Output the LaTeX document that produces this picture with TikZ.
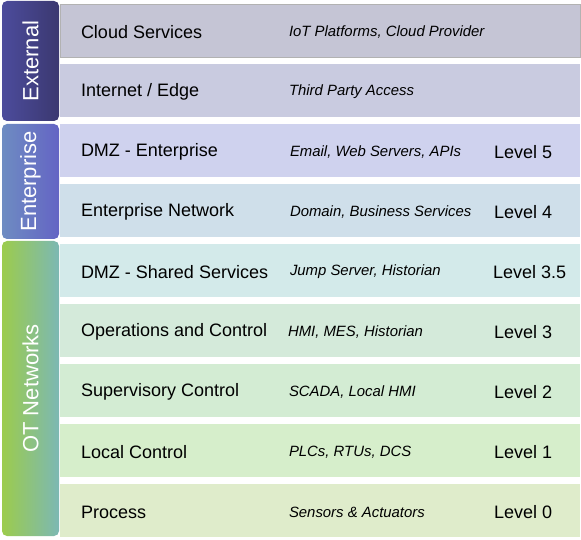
\documentclass[tikz,border=0pt]{standalone}
\usepackage{fontspec}
\setmainfont{Liberation Sans}
\usepackage{tikz}
\usetikzlibrary{positioning}

\definecolor{extTop}{HTML}{3B3870}
\definecolor{extBot}{HTML}{4C4C9C}
\definecolor{entTop}{HTML}{6464C4}
\definecolor{entBot}{HTML}{6E8CC2}
\definecolor{otTop}{HTML}{7CB8B4}
\definecolor{otBot}{HTML}{9CCC4C}
\definecolor{rowA}{HTML}{C5C5D5}
\definecolor{rowB}{HTML}{C9CBE0}
\definecolor{rowC}{HTML}{CFD2EE}
\definecolor{rowD}{HTML}{CFDFEA}
\definecolor{rowE}{HTML}{D3EAEA}
\definecolor{rowF}{HTML}{D4EADA}
\definecolor{rowG}{HTML}{D3ECD3}
\definecolor{rowH}{HTML}{D6EECB}
\definecolor{rowI}{HTML}{DFECCB}

\tikzset{
  layer/.style={rectangle, inner sep=0pt, minimum width=520pt, minimum height=53pt},
  zone/.style={rectangle, rounded corners=5pt, inner sep=0pt, minimum height=57pt,
               rotate=90, text=white, font=\fontsize{22}{24}\selectfont},
  layername/.style={anchor=west, inner sep=0pt, yshift=-1.5pt, font=\fontsize{18}{20}\selectfont},
  layerinfo/.style={anchor=west, inner sep=0pt, yshift=-1.5pt, font=\fontsize{14.9}{17}\selectfont\itshape},
  layerlevel/.style={anchor=west, inner sep=0pt, yshift=-1.5pt, font=\fontsize{18}{20}\selectfont}
}

\begin{document}
\begin{tikzpicture}[x=1pt,y=-1pt]
    \useasboundingbox[fill=white] (0,0) rectangle (581,540);
    % Layers
    \node (cloud)     [layer, fill=rowA, draw=black!30] at (320,30.5)  {};
    \node (inet)      [layer, fill=rowB] at (320,90.5)  {};
    \node (dmzent)    [layer, fill=rowC] at (320,150.5) {};
    \node (entnet)    [layer, fill=rowD] at (320,210.5) {};
    \node (dmzshared) [layer, fill=rowE] at (320,270.5) {};
    \node (ops)       [layer, fill=rowF] at (320,330.5) {};
    \node (superv)    [layer, fill=rowG] at (320,390.5) {};
    \node (localctl)  [layer, fill=rowH] at (320,450.5) {};
    \node (process)   [layer, fill=rowI] at (320,510.5) {};

    % Layer names
    \node (cloudname)     [layername, right=21pt of cloud.west]     {Cloud Services};
    \node (inetname)      [layername, right=21pt of inet.west]      {Internet / Edge};
    \node (dmzentname)    [layername, right=21pt of dmzent.west]    {DMZ - Enterprise};
    \node (entnetname)    [layername, right=21pt of entnet.west]    {Enterprise Network};
    \node (dmzsharedname) [layername, right=21pt of dmzshared.west] {DMZ - Shared Services};
    \node (opsname)       [layername, right=21pt of ops.west]       {Operations and Control};
    \node (supervname)    [layername, right=21pt of superv.west]    {Supervisory Control};
    \node (localctlname)  [layername, right=21pt of localctl.west]  {Local Control};
    \node (processname)   [layername, right=21pt of process.west]   {Process};

    % Examples
    \node (cloudinfo)     [layerinfo, right=229pt of cloud.west]     {IoT Platforms, Cloud Provider};
    \node (inetinfo)      [layerinfo, right=229pt of inet.west]      {Third Party Access};
    \node (dmzentinfo)    [layerinfo, right=230pt of dmzent.west]    {Email, Web Servers, APIs};
    \node (entnetinfo)    [layerinfo, right=230pt of entnet.west]    {Domain, Business Services};
    \node (dmzsharedinfo) [layerinfo, right=230pt of dmzshared.west] {Jump Server, Historian};
    \node (opsinfo)       [layerinfo, right=228pt of ops.west]       {HMI, MES, Historian};
    \node (supervinfo)    [layerinfo, right=229pt of superv.west]    {SCADA, Local HMI};
    \node (localctlinfo)  [layerinfo, right=229pt of localctl.west]  {PLCs, RTUs, DCS};
    \node (processinfo)   [layerinfo, right=229pt of process.west]   {Sensors \& Actuators};

    % Levels
    \node (dmzentlvl)    [layerlevel, right=434pt of dmzent.west]    {Level 5};
    \node (entnetlvl)    [layerlevel, right=434pt of entnet.west]    {Level 4};
    \node (dmzsharedlvl) [layerlevel, right=433pt of dmzshared.west] {Level 3.5};
    \node (opslvl)       [layerlevel, right=434pt of ops.west]       {Level 3};
    \node (supervlvl)    [layerlevel, right=434pt of superv.west]    {Level 2};
    \node (localctllvl)  [layerlevel, right=434pt of localctl.west]  {Level 1};
    \node (processlvl)   [layerlevel, right=434pt of process.west]   {Level 0};

    % Zones
    \node (external)   [zone, minimum width=120pt, left color=extBot, right color=extTop] at (30.5,61)    {External};
    \node (enterprise) [zone, minimum width=115pt, left color=entBot, right color=entTop] at (30.5,181.5) {Enterprise};
    \node (otnet)      [zone, minimum width=295pt, left color=otBot, right color=otTop]   at (30.5,388.5) {OT Networks};

\end{tikzpicture}
\end{document}
